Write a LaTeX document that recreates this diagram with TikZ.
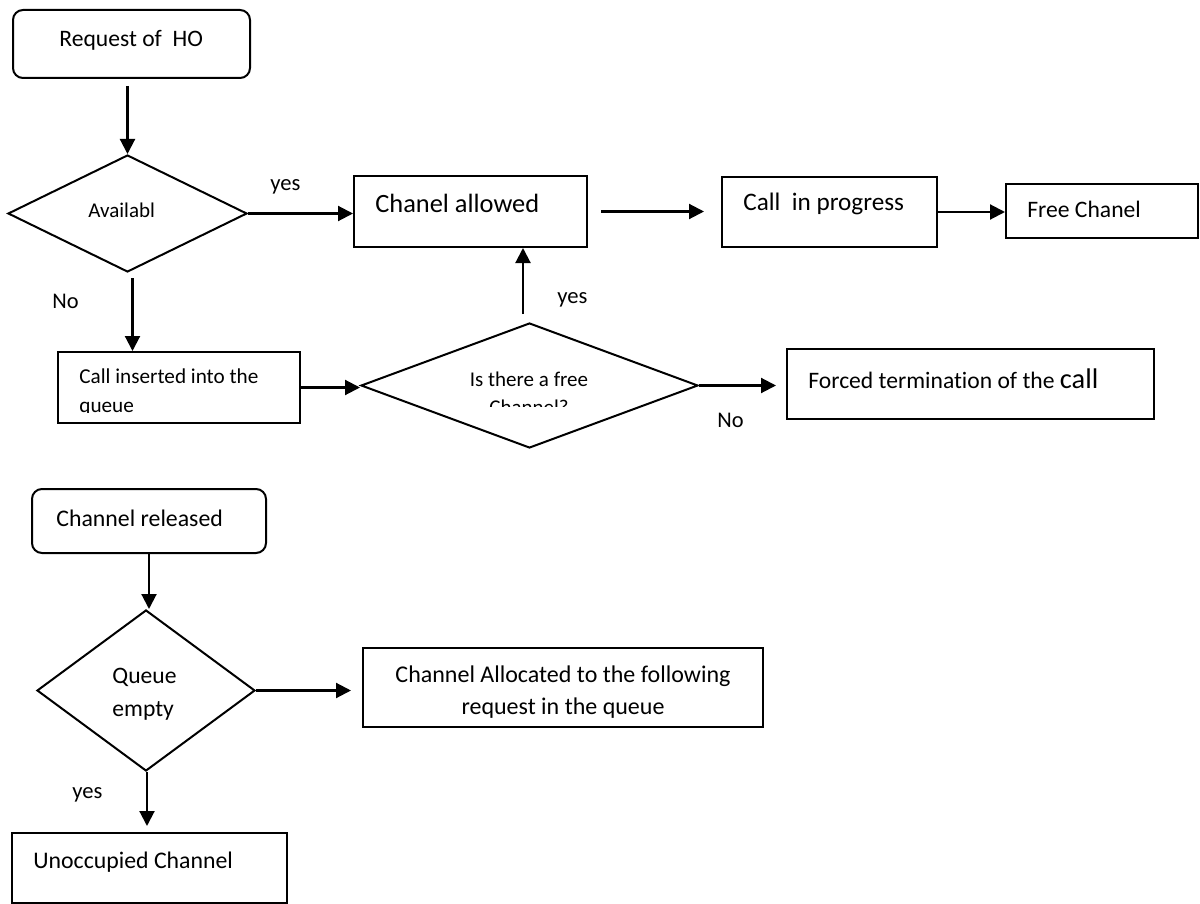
\documentclass[tikz,border=0pt]{standalone}
\usepackage{fontspec}
\setmainfont{Carlito}[Ligatures=NoCommon]
\usetikzlibrary{arrows.meta,shapes.geometric}
\tikzset{
  box/.style={draw, line width=1pt, inner sep=0pt},
  rbox/.style={box, rounded corners=5pt},
  dia/.style={draw, diamond, line width=1pt, inner sep=0pt},
  arr/.style={line width=1.05pt, -{Triangle[length=7.5pt,width=7.5pt]}},
  txt/.style={anchor=base west, inner sep=0pt},
  ctxt/.style={anchor=base, inner sep=0pt},
}
\newcommand{\fs}[1]{\fontsize{#1}{#1}\selectfont}
\begin{document}
\begin{tikzpicture}[x=0.5pt,y=-0.5pt]
\useasboundingbox (0,0) rectangle (1200,904);

% shapes
\node[rbox, minimum width=118.5pt, minimum height=34pt] (req) at (131.5,44) {};
\node[dia, minimum width=119.5pt, minimum height=58.5pt, aspect=2.04] (avail) at (127.5,213.5) {};
\node[box, minimum width=116.5pt, minimum height=35.5pt] (allowed) at (470.5,211.5) {};
\node[box, minimum width=107.5pt, minimum height=35pt] (progress) at (829.5,212) {};
\node[box, minimum width=96pt, minimum height=27pt] (free) at (1102,211) {};
\node[box, minimum width=121pt, minimum height=35.5pt] (insert) at (179,387.5) {};
\node[dia, minimum width=168.5pt, minimum height=62.5pt, aspect=2.7] (freech) at (529.5,385.5) {};
\node[box, minimum width=183.5pt, minimum height=35pt] (forced) at (970.5,384) {};
\node[rbox, minimum width=117pt, minimum height=32pt] (released) at (149,521) {};
\node[dia, minimum width=109pt, minimum height=80.5pt, aspect=1.35] (qempty) at (146,690.5) {};
\node[box, minimum width=200pt, minimum height=39.5pt] (alloc) at (563,687.5) {};
\node[box, minimum width=137.5pt, minimum height=35pt] (unocc) at (149.5,868) {};

% texts
\node[txt] (treq) at (59,47) {\fs{11.8}Request of\ \ HO};
\node[txt] (tavail) at (88,217) {\fs{10.5}Availabl};
\node[txt] (yes1) at (270,191) {\fs{11.3}yes};
\node[txt] (tallowed) at (375,213) {\fs{13.2}Chanel allowed};
\node[txt] (tprogress) at (743,211) {\fs{12.6}Call\ \ in progress};
\node[txt] (tfree) at (1027,218) {\fs{11.8}Free Chanel};
\node[txt] (no1) at (52,308) {\fs{11.2}No};
\node[txt] (yes2) at (557,303) {\fs{11.3}yes};
\node[txt] (tins1) at (79,383) {\fs{10.6}Call inserted into the};
\begin{scope}
  \clip (58,352) rectangle (300,412);
  \node[txt] (tins2) at (79,412) {\fs{10.6}queue};
\end{scope}
\node[ctxt] (tfc1) at (529,386) {\fs{10.5}Is there a free};
\begin{scope}
  \clip (440,380) rectangle (620,406);
  \node[ctxt] (tfc2) at (529,414) {\fs{10.5}Channel?};
\end{scope}
\node[txt] (tforced) at (808,388) {\fs{11.8}Forced termination of the \fs{14.2}call};
\node[txt] (no2) at (717,427) {\fs{11.2}No};
\node[txt] (trel) at (56,526) {\fs{11.9}Channel released};
\node[txt] (tq1) at (112,683) {\fs{11.8}Queue};
\node[txt] (tq2) at (112,716) {\fs{11.8}empty};
\node[ctxt] (tal1) at (563,682) {\fs{12}Channel Allocated to the following};
\node[ctxt] (tal2) at (563,714) {\fs{12}request in the queue};
\node[txt] (yes3) at (72,798) {\fs{11.3}yes};
\node[txt] (tunocc) at (33,868) {\fs{11.9}Unoccupied Channel};

% connectors
\draw[arr, shorten <=3.5pt] (avail.north |- req.south) -- (avail.north);
\draw[arr] (avail.east) -- (avail.east -| allowed.west);
\draw[arr, shorten <=6.5pt, shorten >=8.5pt] (allowed.east) -- (allowed.east -| progress.west);
\draw[arr] (progress.east) -- (progress.east -| free.west);
\draw[arr] ([xshift=2.5pt,yshift=-2.5pt]avail.south) -- ([xshift=2.5pt]avail.south |- insert.north);
\draw[arr] (insert.east) -- (insert.east -| freech.west);
\draw[arr] ([xshift=-3.25pt,yshift=4pt]freech.north) -- ([xshift=-3.25pt]freech.north |- allowed.south);
\draw[arr, shorten >=5pt] (freech.east) -- (freech.east -| forced.west);
\draw[arr] (released.south) -- (released.south |- qempty.north);
\draw[arr, shorten >=5.5pt] (qempty.east) -- (qempty.east -| alloc.west);
\draw[arr, shorten >=3pt] ([xshift=0.5pt]qempty.south) -- ([xshift=0.5pt]qempty.south |- unocc.north);
\end{tikzpicture}
\end{document}
